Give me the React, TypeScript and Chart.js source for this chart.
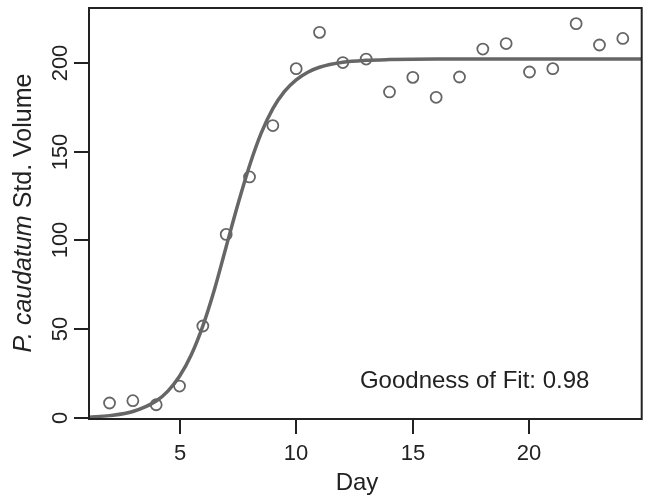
import React, { useEffect, useRef } from "react";
import { Chart, registerables } from "chart.js";

Chart.register(...registerables);

const days = [2, 3, 4, 5, 6, 7, 8, 9, 10, 11, 12, 13, 14, 15, 16, 17, 18, 19, 20, 21, 22, 23, 24];
const volume = [8.6, 9.9, 7.6, 18.1, 51.9, 103.4, 135.7, 164.6, 196.6, 217.0, 200.0, 202.0, 183.5, 191.7, 180.5, 191.9, 207.6, 210.7, 194.7, 196.6, 221.9, 209.9, 213.6];

const fitDays = [1.12, 2, 3, 4, 4.5, 5, 5.5, 6, 6.5, 7, 7.5, 8, 8.5, 9, 9.5, 10, 10.5, 11, 12, 13, 14, 16, 20, 24.81];
const fitValues = [0.6, 1.5, 3.8, 9.7, 15.3, 23.6, 35.6, 52.0, 72.6, 96.5, 120.2, 142.0, 160.3, 174.1, 183.8, 190.3, 194.6, 197.4, 200.2, 201.3, 201.7, 202.0, 202.0, 202.0];

const xTicks = [5, 10, 15, 20];
const yTicks = [0, 50, 100, 150, 200];

const xTitle = "Day";
const yTitleItalic = "P. caudatum";
const yTitleRest = " Std. Volume";
const annotation = "Goodness of Fit: 0.98";

const FONT = "'Liberation Sans', Arial, Helvetica, sans-serif";

const axesPlugin = {
  id: "rAxes",
  afterDraw(chart: any) {
    const ctx = chart.ctx as CanvasRenderingContext2D;
    const { left, right, top, bottom } = chart.chartArea;
    const xs = chart.scales.x;
    const ys = chart.scales.y;
    ctx.save();
    ctx.strokeStyle = "#222";
    ctx.lineWidth = 2;
    ctx.strokeRect(left, top, right - left, bottom - top);

    ctx.fillStyle = "#222";
    ctx.font = `22px ${FONT}`;
    // x ticks
    xTicks.forEach((v) => {
      const px = Math.round(xs.getPixelForValue(v));
      ctx.beginPath();
      ctx.moveTo(px, bottom);
      ctx.lineTo(px, bottom + 15);
      ctx.stroke();
      ctx.textAlign = "center";
      ctx.textBaseline = "middle";
      ctx.fillText(String(v), px, bottom + 35);
    });
    // y ticks
    yTicks.forEach((v) => {
      const py = Math.round(ys.getPixelForValue(v));
      ctx.beginPath();
      ctx.moveTo(left, py);
      ctx.lineTo(left - 15, py);
      ctx.stroke();
      ctx.save();
      ctx.translate(left - 28, py);
      ctx.rotate(-Math.PI / 2);
      ctx.textAlign = "center";
      ctx.textBaseline = "middle";
      ctx.fillText(String(v), 0, 0);
      ctx.restore();
    });

    // x title
    ctx.font = `24px ${FONT}`;
    ctx.textAlign = "center";
    ctx.textBaseline = "middle";
    ctx.fillText(xTitle, 357, 483);

    // y title (italic part + regular part)
    ctx.save();
    ctx.translate(24, 213);
    ctx.rotate(-Math.PI / 2);
    ctx.font = `italic 25px ${FONT}`;
    const w1 = ctx.measureText(yTitleItalic).width;
    ctx.font = `25px ${FONT}`;
    const w2 = ctx.measureText(yTitleRest).width;
    const start = -(w1 + w2) / 2;
    ctx.textAlign = "left";
    ctx.textBaseline = "middle";
    ctx.font = `italic 25px ${FONT}`;
    ctx.fillText(yTitleItalic, start, 0);
    ctx.font = `25px ${FONT}`;
    ctx.fillText(yTitleRest, start + w1, 0);
    ctx.restore();

    // annotation
    ctx.font = `24px ${FONT}`;
    ctx.textAlign = "center";
    ctx.textBaseline = "middle";
    ctx.fillText(annotation, xs.getPixelForValue(17.65), ys.getPixelForValue(20.8));
    ctx.restore();
  },
};

export default function App() {
  const ref = useRef<HTMLCanvasElement | null>(null);
  useEffect(() => {
    if (!ref.current) return;
    const chart = new Chart(ref.current, {
      type: "scatter",
      data: {
        datasets: [
          {
            label: "points",
            data: days.map((d, i) => ({ x: d, y: volume[i] })),
            pointStyle: "circle",
            pointRadius: 5.5,
            pointBorderWidth: 1.8,
            pointBorderColor: "#666",
            pointBackgroundColor: "rgba(0,0,0,0)",
            showLine: false,
            order: 2,
          },
          {
            label: "fit",
            data: fitDays.map((d, i) => ({ x: d, y: fitValues[i] })),
            showLine: true,
            pointRadius: 0,
            borderColor: "#666",
            borderWidth: 3.5,
            cubicInterpolationMode: "monotone",
            fill: false,
            order: 1,
          },
        ],
      },
      options: {
        animation: false,
        responsive: false,
        devicePixelRatio: 1,
        layout: { padding: { left: 89, top: 8, right: 2, bottom: 79 } },
        plugins: { legend: { display: false }, tooltip: { enabled: false } },
        scales: {
          x: { type: "linear", min: 1.12, max: 24.81, display: false },
          y: { type: "linear", min: -0.4, max: 230.7, display: false },
        },
      },
      plugins: [axesPlugin],
    });
    return () => chart.destroy();
  }, []);
  return (
    <div style={{ position: "absolute", left: 0, top: 0, width: 649, height: 498, background: "#fff" }}>
      <canvas ref={ref} width={649} height={498} />
    </div>
  );
}
